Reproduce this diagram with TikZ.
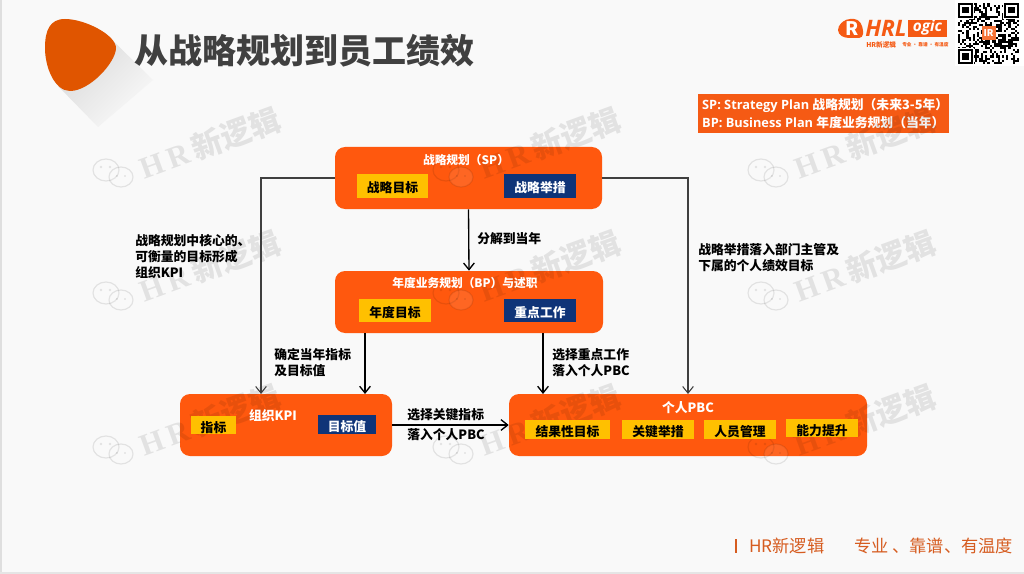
\documentclass[tikz,border=0pt]{standalone}
\usepackage{fontspec}
\setmainfont{Noto Sans CJK SC}
\newfontfamily\latinfont{Open Sans}
\newfontfamily\markfont{Liberation Serif}
\usetikzlibrary{arrows.meta}
\definecolor{pageGray}{RGB}{249, 249, 249}
\definecolor{boxOrange}{RGB}{255, 88, 14}
\definecolor{blobOrange}{RGB}{224, 85, 0}
\definecolor{noteOrange}{RGB}{245, 90, 20}
\definecolor{tagYellow}{RGB}{255, 192, 0}
\definecolor{tagBlue}{RGB}{15, 52, 120}
\definecolor{footOrange}{RGB}{214, 92, 32}
\definecolor{titleGray}{RGB}{64, 64, 64}
\tikzset{
  orgbox/.style 2 args={fill=boxOrange, rounded corners=7.5pt, minimum width=#1*0.75pt, minimum height=#2*0.75pt, inner sep=0pt},
  yellowtag/.style 2 args={fill=tagYellow, text=black, font=\fontsize{9.6}{11}\bfseries, text height=10.5pt, text depth=0pt, minimum width=#1*0.75pt, minimum height=#2*0.75pt, inner sep=0pt},
  bluetag/.style 2 args={fill=tagBlue, text=white, font=\fontsize{9.6}{11}\bfseries, text height=10.5pt, text depth=0pt, minimum width=#1*0.75pt, minimum height=#2*0.75pt, inner sep=0pt},
  boxhead/.style={text=white, font=\fontsize{8.8}{11}\bfseries, inner sep=0pt},
  steplabel/.style={text=black, font=\fontsize{9.6}{12}\bfseries, align=left, anchor=west, inner sep=0pt},
  darkarrow/.style={black, line width=1pt, -{Straight Barb[length=5pt,width=8pt]}},
  grayarrow/.style={titleGray, line width=0.8pt, -{Straight Barb[length=5pt,width=8pt]}},
}
\begin{document}
\begin{tikzpicture}[x=0.75pt, y=-0.75pt]
  \fill[pageGray] (0,0) rectangle (1024,574);
  \useasboundingbox (0,0) rectangle (1024,574);
  \fill[gray!25] (0,0) rectangle (1.5,574);
  \fill[gray!20] (0,571.5) rectangle (1024,574);

  % title mark
  \shade[left color=gray!30, right color=pageGray, shading angle=45] (104,32) -- (153,80) -- (98,127) -- (58,86) -- cycle;
  \fill[blobOrange] (65,19) .. controls (85,19) and (116,35) .. (116,48)
    .. controls (116,62) and (90,91) .. (70,91)
    .. controls (55,91) and (45,68) .. (45,48)
    .. controls (45,30) and (50,19) .. (65,19);
  \node[text=titleGray, font=\fontsize{25.5}{28}\bfseries, anchor=west, inner sep=0pt] (title) at (134,51) {从战略规划到员工绩效};

  % logo
  \fill[noteOrange, rounded corners=3pt] (838,26) -- (846,19) -- (858,19) -- (863,27) -- (863,38) -- (845,38) -- (838,34) -- cycle;
  \node[text=white, font=\fontsize{14}{14}\bfseries\itshape, inner sep=0pt] (logoR) at (852,29) {R};
  \node[text=noteOrange, font=\latinfont\fontsize{17}{17}\bfseries\itshape, anchor=west, inner sep=0pt] (logoHRL) at (865,28) {HRL};
  \fill[noteOrange] (908,20) rectangle (947,37);
  \node[text=white, font=\latinfont\fontsize{11.5}{12}\bfseries\itshape, inner sep=0pt] (logoOgic) at (927.5,28) {ogic};
  \node[text=noteOrange, font=\fontsize{5}{6}\bfseries\itshape, anchor=west, inner sep=0pt] (logoName) at (866,45) {HR新逻辑};
  \node[text=noteOrange, font=\fontsize{3.5}{5}\bfseries, anchor=west, inner sep=0pt] (logoMotto) at (902,45) {专业 · 靠谱 · 有温度};

  % qr code
  \fill[white] (955,0) rectangle (1024,66);
  \pgfmathsetseed{11}
  \foreach \i in {0,...,28}
    \foreach \j in {0,...,28} {
      \pgfmathparse{rnd>0.52 ? 1 : 0}
      \ifnum\pgfmathresult=1
        \fill[black] (958+\i*2.1,3+\j*2.1) rectangle ++(2.1,2.1);
      \fi
    }
  \foreach \x/\y in {958/3, 1004.2/3, 958/49.2} {
    \fill[white] (\x-1,\y-1) rectangle ++(17,17);
    \fill[black] (\x,\y) rectangle ++(14.7,14.7);
    \fill[white] (\x+2.1,\y+2.1) rectangle ++(10.5,10.5);
    \fill[black] (\x+4.2,\y+4.2) rectangle ++(6.3,6.3);
  }
  \node[fill=noteOrange!85, text=white, font=\fontsize{7}{7}\bfseries, minimum width=10.5pt, minimum height=10.5pt, inner sep=0pt] (qrlogo) at (988.5,33) {IR};

  % note
  \node[fill=noteOrange, text=white, font=\latinfont\fontsize{9.6}{13.4}\selectfont, align=left, minimum width=188.25pt, minimum height=29.25pt, inner sep=0pt] (note) at (823.5,113.5)
    {\hspace*{2.5pt}\textbf{SP: Strategy Plan} {\rmfamily\bfseries 战略规划（未来3-5年）}\\ \hspace*{2.5pt}\textbf{BP: Business Plan} {\rmfamily\bfseries 年度业务规划（当年）}};

  % main boxes
  \node[orgbox={267}{62}] (sp) at (468.5,178) {};
  \node[orgbox={268}{62}] (bp) at (469,302) {};
  \node[orgbox={212}{62}] (kpi) at (286,425) {};
  \node[orgbox={358}{62}] (pbc) at (688,425) {};

  % watermark
  \foreach \x/\y [count=\n] in {90/186, 430/186, 745/186, 90/309, 430/309, 745/309, 90/463, 430/463, 745/463} {
    \begin{scope}[shift={(\x,\y)}, opacity=0.09]
      \draw[line width=0.9pt] (16,-16) ellipse (13 and 11);
      \draw[line width=0.9pt, fill=pageGray] (31,-9) ellipse (12 and 10);
      \fill (11,-19) circle (1.3) (20,-19) circle (1.3) (27,-10) circle (1.2) (35,-10) circle (1.2);
      \node[rotate=20, anchor=south west, inner sep=0pt, font=\fontsize{23}{24}\bfseries] (mark\n) at (55,-3) {{\markfont H\,R\,}新逻辑};
    \end{scope}
  }

  % sub boxes
  \node[boxhead] (spHead) at (466,160) {战略规划（SP）};
  \node[yellowtag={71}{24}] (spGoal) at (392.5,186) {战略目标};
  \node[bluetag={72}{24}] (spAct) at (540,186) {战略举措};
  \node[boxhead] (bpHead) at (465,283) {年度业务规划（BP）与述职};
  \node[yellowtag={72}{23}] (bpGoal) at (395,310.5) {年度目标};
  \node[bluetag={72}{23}] (bpWork) at (540,310.5) {重点工作};
  \node[boxhead, font=\fontsize{9.6}{11}\bfseries] (kpiHead) at (273,416) {组织KPI};
  \node[yellowtag={45}{18}] (kpiItem) at (213.5,425) {指标};
  \node[bluetag={58}{19}] (kpiVal) at (347,424.5) {目标值};
  \node[boxhead, font=\fontsize{9.6}{11}\bfseries] (pbcHead) at (688,408) {个人PBC};
  \node[yellowtag={85}{19}] (pbcRes) at (567.5,429.5) {结果性目标};
  \node[yellowtag={72}{19}] (pbcAct) at (658,429.5) {关键举措};
  \node[yellowtag={72}{19}] (pbcMan) at (740,429.5) {人员管理};
  \node[yellowtag={72}{18}] (pbcAbi) at (822,428) {能力提升};

  % connectors
  \coordinate (kpiLeft) at (261,394);
  \coordinate (kpiRight) at (365,394);
  \coordinate (pbcLeft) at (543,394);
  \coordinate (pbcRight) at (688,394);
  \draw[darkarrow] (sp.south) -- (bp.north);
  \draw[grayarrow] (sp.west) -| (kpiLeft);
  \draw[grayarrow] (sp.east) -| (pbcRight);
  \draw[darkarrow] (kpiRight |- bp.south) -- (kpiRight);
  \draw[darkarrow] (pbcLeft |- bp.south) -- (pbcLeft);
  \draw[darkarrow] (kpi.east) -- (pbc.west);

  % labels
  \node[steplabel] (lblSplit) at (477,239) {分解到当年};
  \node[steplabel] (lblCore) at (135,256.5) {战略规划中核心的、\\可衡量的目标形成\\组织KPI};
  \node[steplabel] (lblAct) at (698,257.5) {战略举措落入部门主管及\\下属的个人绩效目标};
  \node[steplabel] (lblYear) at (274,362.5) {确定当年指标\\及目标值};
  \node[steplabel] (lblWork) at (552,362.5) {选择重点工作\\落入个人PBC};
  \node[steplabel, font=\fontsize{9.6}{15}\bfseries] (lblKey) at (407,424.5) {选择关键指标\\落入个人PBC};

  % footer
  \draw[footOrange, line width=1.2pt] (736,539) -- (736,553);
  \node[text=footOrange, font=\fontsize{12.9}{14}\selectfont, anchor=west, inner sep=0pt] (footName) at (749,546) {HR新逻辑};
  \node[text=footOrange, font=\fontsize{12.9}{14}\selectfont, anchor=west, inner sep=0pt] (footMotto) at (854,546) {专业 、靠谱、有温度};
\end{tikzpicture}
\end{document}
